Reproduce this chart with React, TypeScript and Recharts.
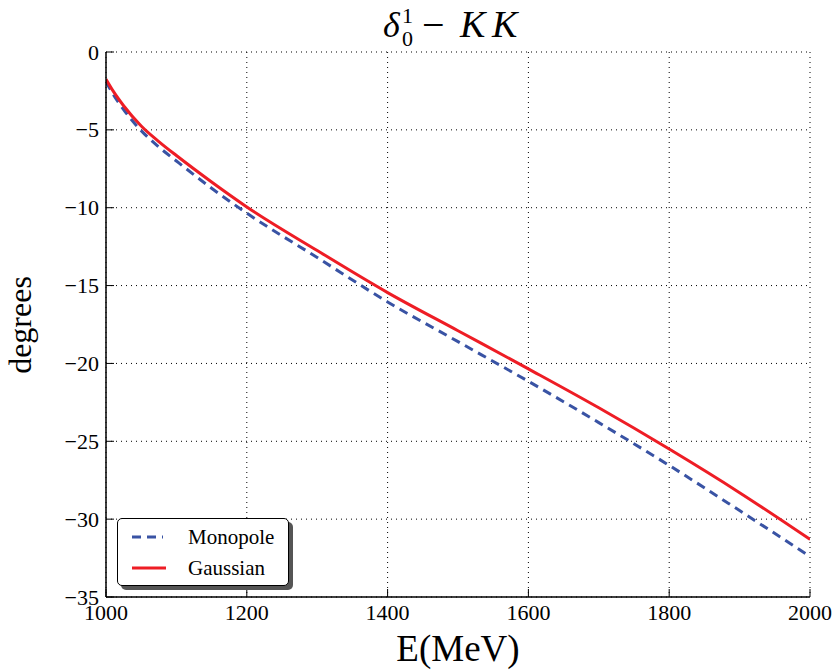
import React from 'react';
import { LineChart, Line, XAxis, YAxis, CartesianGrid, Legend } from 'recharts';

const energies = [1000, 1010, 1025, 1050, 1075, 1100, 1150, 1200, 1300, 1400, 1500, 1600, 1700, 1800, 1900, 2000];
const monopole = [-1.9, -2.7, -3.7, -5.05, -6.1, -7.0, -8.75, -10.35, -13.2, -16.05, -18.6, -21.15, -23.8, -26.55, -29.45, -32.4];
const gaussian = [-1.75, -2.5, -3.45, -4.75, -5.75, -6.65, -8.35, -9.95, -12.75, -15.45, -17.9, -20.35, -22.85, -25.5, -28.3, -31.3];

const xTicks = [1000, 1200, 1400, 1600, 1800, 2000];
const yTicks = [-35, -30, -25, -20, -15, -10, -5, 0];

const seriesNames = ['Monopole', 'Gaussian'];
const seriesColors = ['#3953a4', '#ee1d25'];

const data = energies.map((e, i) => ({ e, monopole: monopole[i], gaussian: gaussian[i] }));

const FONT = '"Liberation Serif", "DejaVu Serif", serif';
const TICK_LEN = 8;
const TICK_FONT = 22;

const fmt = (v: number) => (v < 0 ? '\u2212' + Math.abs(v) : String(v));

const BottomTick = (props: any) => {
  const { x, y, payload } = props;
  return (
    <g>
      <line x1={x} y1={y} x2={x} y2={y - TICK_LEN} stroke="#000" strokeWidth={1} />
      <text x={x} y={y + 23} textAnchor="middle" fontSize={TICK_FONT} fontFamily={FONT} fill="#000">
        {fmt(payload.value)}
      </text>
    </g>
  );
};

const TopTick = (props: any) => {
  const { x, y } = props;
  return <line x1={x} y1={y} x2={x} y2={y + TICK_LEN} stroke="#000" strokeWidth={1} />;
};

const LeftTick = (props: any) => {
  const { x, y, payload } = props;
  return (
    <g>
      <line x1={x} y1={y} x2={x + TICK_LEN} y2={y} stroke="#000" strokeWidth={1} />
      <text x={x - 7} y={y} textAnchor="end" dominantBaseline="central" fontSize={TICK_FONT} fontFamily={FONT} fill="#000">
        {fmt(payload.value)}
      </text>
    </g>
  );
};

const RightTick = (props: any) => {
  const { x, y } = props;
  return <line x1={x} y1={y} x2={x - TICK_LEN} y2={y} stroke="#000" strokeWidth={1} />;
};

const LegendBox = () => (
  <div style={{ position: 'relative', width: 172, height: 68 }}>
    <div
      style={{
        position: 'absolute', left: 4, top: 4, width: 172, height: 68,
        background: '#555', borderRadius: 5,
      }}
    />
    <div
      style={{
        position: 'absolute', left: 0, top: 0, width: 170, height: 66,
        background: '#fff', border: '1px solid #000', borderRadius: 5,
        fontFamily: FONT, fontSize: 21,
      }}
    >
      {seriesNames.map((name, i) => (
        <div key={name} style={{ position: 'absolute', left: 0, top: 5 + i * 31, height: 26, display: 'flex', alignItems: 'center' }}>
          <svg width={60} height={26} style={{ display: 'block' }}>
            <line
              x1={14} y1={13} x2={i === 0 ? 45 : 48} y2={13}
              stroke={seriesColors[i]} strokeWidth={3}
              strokeDasharray={i === 0 ? '9 6' : undefined}
            />
          </svg>
          <span style={{ marginLeft: 10, lineHeight: '26px' }}>{name}</span>
        </div>
      ))}
    </div>
  </div>
);

export default function App() {
  return (
    <div style={{ position: 'absolute', left: 0, top: 0, width: 835, height: 670, background: '#fff' }}>
      <LineChart width={835} height={670} data={data} margin={{ top: 52, right: 25, left: 0, bottom: 0 }}>
        <CartesianGrid stroke="#000" strokeDasharray="1 4" strokeWidth={1} />
        <XAxis
          dataKey="e" type="number" domain={[1000, 2000]} ticks={xTicks} allowDataOverflow
          height={73} tickSize={0} tickMargin={0} tickLine={false}
          axisLine={{ stroke: '#000', strokeWidth: 1.5 }} tick={<BottomTick />} interval={0}
        />
        <XAxis
          xAxisId="top" orientation="top" dataKey="e" type="number" domain={[1000, 2000]} ticks={xTicks}
          allowDataOverflow height={0} tickSize={0} tickMargin={0} tickLine={false}
          axisLine={{ stroke: '#000', strokeWidth: 1.5 }} tick={<TopTick />} interval={0}
        />
        <YAxis
          type="number" domain={[-35, 0]} ticks={yTicks} allowDataOverflow width={106}
          tickSize={0} tickMargin={0} tickLine={false}
          axisLine={{ stroke: '#000', strokeWidth: 1.5 }} tick={<LeftTick />} interval={0}
        />
        <YAxis
          yAxisId="r" orientation="right" type="number" domain={[-35, 0]} ticks={yTicks} allowDataOverflow width={0}
          tickSize={0} tickMargin={0} tickLine={false}
          axisLine={{ stroke: '#000', strokeWidth: 1.5 }} tick={<RightTick />} interval={0}
        />
        <Legend
          layout="vertical" align="center" verticalAlign="middle"
          content={<LegendBox />}
          wrapperStyle={{ left: 117, top: 518, width: 176, height: 72 }}
        />
        <Line
          type="monotone" dataKey="monopole" name={seriesNames[0]} stroke={seriesColors[0]}
          strokeWidth={3} strokeDasharray="9 6" dot={false} isAnimationActive={false}
        />
        <Line
          type="monotone" dataKey="gaussian" name={seriesNames[1]} stroke={seriesColors[1]}
          strokeWidth={3} dot={false} isAnimationActive={false}
        />
      </LineChart>
      <svg width={835} height={670} style={{ position: 'absolute', left: 0, top: 0, pointerEvents: 'none' }}>
        <g fontFamily={FONT} fill="#000">
          <text x={383} y={37} fontSize={36} fontStyle="italic">δ</text>
          <text x={402} y={23} fontSize={22}>1</text>
          <text x={402} y={46} fontSize={22}>0</text>
          <text x={422} y={38} fontSize={40}>{'\u2212'}</text>
          <text x={460} y={37} fontSize={38} fontStyle="italic">K</text>
          <text x={492} y={37} fontSize={38} fontStyle="italic">K</text>
        </g>
        <text x={458} y={661} textAnchor="middle" fontFamily={FONT} fontSize={37} fill="#000">E(MeV)</text>
        <text
          x={0} y={0} transform="translate(31 325) rotate(-90)" textAnchor="middle"
          fontFamily={FONT} fontSize={32} fill="#000"
        >
          degrees
        </text>
      </svg>
    </div>
  );
}
